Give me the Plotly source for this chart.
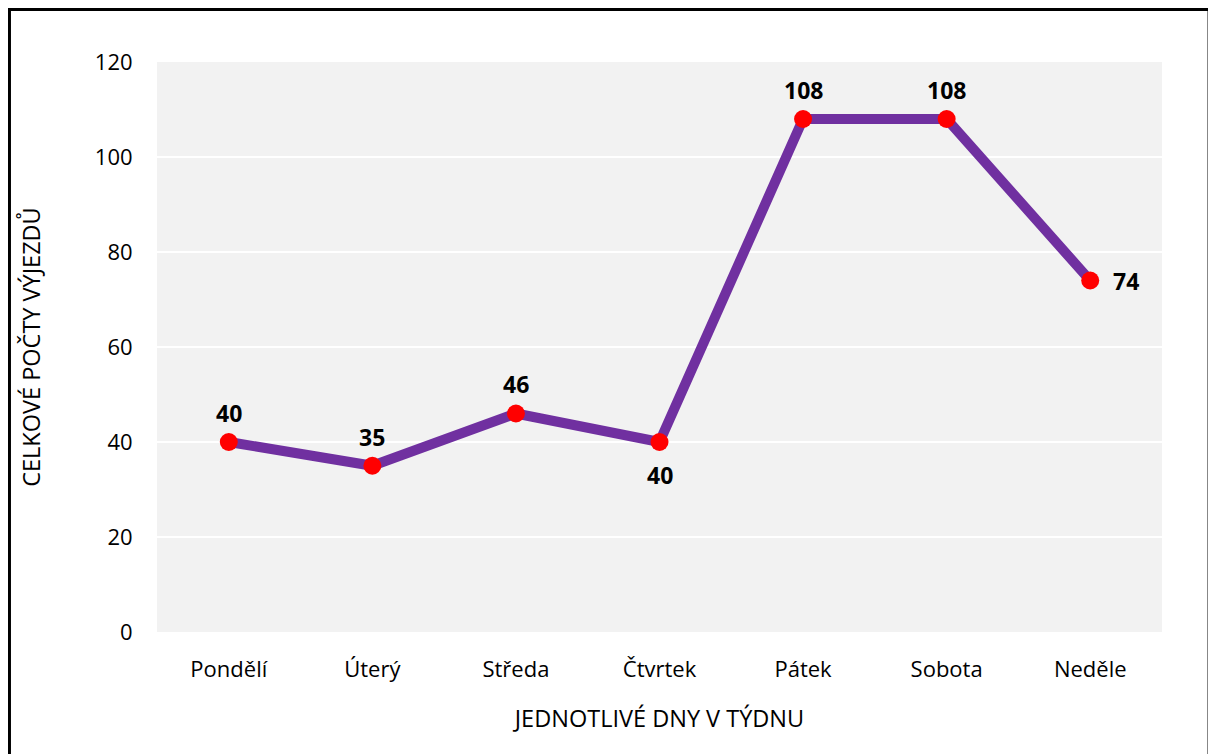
import plotly.graph_objects as go

days = ["Pondělí", "Úterý", "Středa", "Čtvrtek", "Pátek", "Sobota", "Neděle"]
counts = [40, 35, 46, 40, 108, 108, 74]
# label placement relative to each point: (xshift, yshift) in px
label_shift = [(0, 29), (0, 29), (0, 30), (0, -33), (0, 29), (0, 29), (36, 0)]
y_ticks = [0, 20, 40, 60, 80, 100, 120]

FONT = "Open Sans"

fig = go.Figure()
fig.add_trace(go.Scatter(
    x=days, y=counts,
    mode="lines+markers",
    line=dict(color="#7030a0", width=10),
    marker=dict(color="#ff0000", size=18),
    cliponaxis=False,
    showlegend=False,
))

for d, v, (dx, dy) in zip(days, counts, label_shift):
    fig.add_annotation(
        x=d, y=v, text=str(v), showarrow=False,
        xshift=dx, yshift=dy,
        font=dict(family=FONT, size=23, color="black", weight="bold"),
    )

fig.update_layout(
    width=1208, height=746,
    margin=dict(l=149, r=54, t=54, b=122),
    paper_bgcolor="white",
    plot_bgcolor="#f2f2f2",
    font=dict(family=FONT, size=22, color="black"),
    xaxis=dict(
        range=[-0.5, len(days) - 0.5],
        showgrid=False, zeroline=False, showline=False,
        ticks="outside", ticklen=18, tickcolor="rgba(0,0,0,0)",
        title=dict(text="JEDNOTLIVÉ DNY V TÝDNU", standoff=28,
                   font=dict(family=FONT, size=23.5)),
        tickfont=dict(family=FONT, size=22),
    ),
    yaxis=dict(
        range=[0, 120], tickvals=y_ticks,
        showgrid=True, gridcolor="white", gridwidth=2,
        zeroline=False, showline=False,
        ticks="outside", ticklen=19, tickcolor="rgba(0,0,0,0)",
        title=dict(text="CELKOVÉ POČTY VÝJEZDŮ", standoff=47,
                   font=dict(family=FONT, size=23.5)),
        tickfont=dict(family=FONT, size=22),
    ),
    shapes=[dict(
        type="rect", xref="paper", yref="paper",
        x0=-0.1468, x1=1.0468, y0=-0.2246, y1=1.0921,
        line=dict(color="black", width=3), fillcolor="rgba(0,0,0,0)",
        layer="above",
    )],
)

fig.write_html("out.html")
